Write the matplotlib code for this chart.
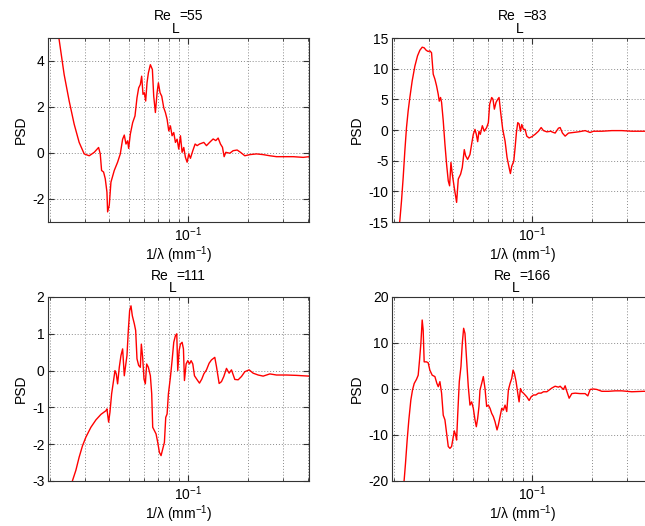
import numpy as np
import matplotlib
matplotlib.use('Agg')
import matplotlib.pyplot as plt
from matplotlib.ticker import LogLocator, NullFormatter

plt.rcParams['font.family'] = ['Liberation Sans', 'DejaVu Sans']
plt.rcParams['mathtext.fontset'] = 'custom'
plt.rcParams['mathtext.rm'] = 'Liberation Sans'
plt.rcParams['font.size'] = 10
plt.rcParams['axes.unicode_minus'] = False

# Re_L = 55
x_re55 = [0.0196, 0.0205, 0.02231, 0.02364, 0.02506, 0.02656, 0.02814, 0.02983, 0.03162, 0.03352,
          0.03525, 0.03594, 0.03650, 0.03736, 0.03809, 0.03884, 0.03914, 0.03990, 0.04068, 0.04228,
          0.04395, 0.04534, 0.04659, 0.04750, 0.04843, 0.04938, 0.04996, 0.05094, 0.05234, 0.05377,
          0.05504, 0.05612, 0.05722, 0.05811, 0.05902, 0.05995, 0.06088, 0.06183, 0.06281, 0.06428,
          0.06580, 0.06683, 0.06814, 0.06949, 0.07055, 0.07194, 0.07334, 0.07507, 0.07654, 0.07804,
          0.07958, 0.08111, 0.08270, 0.08432, 0.08597, 0.08766, 0.08935, 0.09112, 0.09290, 0.09471,
          0.09656, 0.09846, 0.10039, 0.10235, 0.10517, 0.10806, 0.11061, 0.11365, 0.11952, 0.12326,
          0.12811, 0.13317, 0.13735, 0.14114, 0.14500, 0.14840, 0.15130, 0.15425, 0.16155, 0.16793,
          0.17592, 0.18287, 0.19231, 0.20384, 0.22029, 0.23789, 0.25711, 0.27779, 0.30013, 0.33712,
          0.37862, 0.405]
psd_re55 = [7.8, 6.5, 4.92, 3.41, 2.26, 1.25, 0.46, -0.04, -0.12, 0.03,
            0.24, -0.04, -0.76, -0.83, -1.12, -1.70, -2.56, -2.27, -1.27, -0.76,
            -0.40, -0.04, 0.60, 0.78, 0.39, 0.53, 0.20, 0.82, 1.32, 1.61,
            2.40, 2.83, 2.98, 3.34, 2.55, 2.62, 2.26, 3.05, 3.48, 3.84,
            3.63, 2.47, 1.76, 2.62, 3.05, 2.62, 2.47, 1.97, 1.76, 1.47,
            0.96, 1.18, 0.75, 0.89, 0.46, 0.60, 0.17, 0.75, 0.03, 0.24,
            -0.19, -0.40, -0.04, -0.23, 0.10, 0.39, 0.32, 0.39, 0.46, 0.32,
            0.47, 0.61, 0.54, 0.65, 0.39, 0.25, -0.16, 0.03, -0.01, 0.10,
            0.13, 0.03, -0.12, -0.07, -0.04, -0.07, -0.12, -0.16, -0.16, -0.16,
            -0.19, -0.16]

# Re_L = 83
x_re83 = [0.0205, 0.02146, 0.02188, 0.02231, 0.02275, 0.02319, 0.02364, 0.02411, 0.02477, 0.02555,
          0.02636, 0.02708, 0.02782, 0.02847, 0.02914, 0.02983, 0.03041, 0.03101, 0.03162, 0.03224,
          0.03287, 0.03352, 0.03391, 0.03443, 0.03484, 0.03552, 0.03622, 0.03693, 0.03765, 0.03824,
          0.03884, 0.03945, 0.04037, 0.04148, 0.04228, 0.04345, 0.04430, 0.04534, 0.04605, 0.04713,
          0.04843, 0.04938, 0.05035, 0.05134, 0.05214, 0.05296, 0.05377, 0.05462, 0.05590, 0.05722,
          0.05878, 0.05995, 0.06088, 0.06232, 0.06329, 0.06428, 0.06554, 0.06683, 0.06787, 0.06920,
          0.07083, 0.07277, 0.07449, 0.07624, 0.07743, 0.07864, 0.08050, 0.08176, 0.08303, 0.08432,
          0.08564, 0.08697, 0.08833, 0.09006, 0.09182, 0.09363, 0.09620, 0.09922, 0.10315, 0.10722,
          0.11061, 0.11365, 0.11814, 0.12425, 0.12516, 0.13010, 0.13523, 0.13787, 0.14165, 0.14613,
          0.15190, 0.16099, 0.17056, 0.18428, 0.19530, 0.20300, 0.22372, 0.25119, 0.28213, 0.31681,
          0.35581, 0.405]
psd_re83 = [-20.0, -14.8, -11.6, -7.8, -3.4, 0.4, 3.1, 5.3, 8.0, 10.4,
            12.1, 13.0, 13.5, 13.4, 13.0, 12.8, 12.9, 12.6, 9.1, 8.3,
            7.2, 5.8, 4.7, 5.3, 4.5, 1.5, -2.3, -5.6, -8.3, -9.1,
            -5.3, -7.2, -9.4, -11.8, -8.0, -7.2, -6.1, -3.2, -4.2, -4.8,
            -4.0, -2.3, -0.7, 0.1, -0.7, -1.9, -0.2, -0.7, 0.7, -0.2,
            0.4, 1.2, 4.2, 5.3, 5.0, 3.4, 4.5, 5.0, 5.3, 2.8,
            0.1, -1.8, -4.5, -6.1, -7.1, -5.9, -5.1, -2.9, -0.4, 1.2,
            1.0, -0.2, 0.9, 0.1, 0.1, -1.0, -1.3, -1.1, -0.7, -0.2,
            0.4, -0.1, -0.3, -0.2, -0.3, -0.5, 0.3, 0.4, -0.5, -1.0,
            -0.5, -0.4, -0.3, -0.1, -0.4, -0.2, -0.2, -0.1, -0.1, -0.2,
            -0.2, -0.2]

# Re_L = 111
x_re111 = [0.0250, 0.02604, 0.02708, 0.02814, 0.02926, 0.03041, 0.03224, 0.03417, 0.03622, 0.03839,
           0.03884, 0.03960, 0.04022, 0.04101, 0.04181, 0.04263, 0.04329, 0.04395, 0.04482, 0.04570,
           0.04659, 0.04750, 0.04825, 0.04900, 0.04977, 0.05054, 0.05134, 0.05214, 0.05337, 0.05420,
           0.05504, 0.05612, 0.05722, 0.05789, 0.05878, 0.05970, 0.06064, 0.06159, 0.06281, 0.06428,
           0.06529, 0.06605, 0.06735, 0.06866, 0.07001, 0.07138, 0.07277, 0.07420, 0.07565, 0.07684,
           0.07804, 0.07926, 0.08111, 0.08270, 0.08432, 0.08597, 0.08732, 0.08833, 0.08973, 0.09112,
           0.09290, 0.09435, 0.09546, 0.09732, 0.09922, 0.10118, 0.10315, 0.10517, 0.10722, 0.11061,
           0.11365, 0.11676, 0.11952, 0.12326, 0.12710, 0.13061, 0.13575, 0.13841, 0.14277, 0.14668,
           0.15072, 0.15545, 0.16032, 0.16474, 0.17124, 0.17800, 0.18502, 0.19231, 0.20222, 0.21184,
           0.22458, 0.23789, 0.25711, 0.27779, 0.31197, 0.35040, 0.405]
psd_re111 = [-3.4, -2.99, -2.71, -2.35, -2.04, -1.81, -1.54, -1.34, -1.19, -1.09,
             -1.04, -1.40, -1.13, -0.63, -0.32, 0.0, -0.09, -0.36, 0.09, 0.41,
             0.59, -0.14, 0.14, 0.41, 1.09, 1.63, 1.76, 1.49, 1.27, 1.09,
             0.32, 0.14, 0.09, 0.72, 0.36, -0.23, -0.36, 0.18, 0.09, -0.14,
             -0.63, -1.54, -1.63, -1.72, -1.95, -2.22, -2.31, -2.13, -1.95, -1.27,
             -1.18, -0.63, -0.18, 0.27, 0.77, 0.95, 1.00, 0.0, 0.54, 0.72,
             0.77, 0.59, -0.27, 0.18, 0.27, 0.18, 0.27, 0.18, -0.14, -0.25,
             -0.34, -0.23, -0.09, 0.02, 0.20, 0.29, 0.36, 0.11, -0.35, -0.30,
             -0.16, 0.06, -0.07, 0.02, -0.24, -0.25, -0.16, -0.03, 0.02, -0.07,
             -0.12, -0.15, -0.09, -0.12, -0.12, -0.13, -0.15]

# Re_L = 166
x_re166 = [0.0215, 0.02257, 0.02292, 0.02337, 0.02383, 0.02439, 0.02487, 0.02536, 0.02604, 0.02656,
           0.02698, 0.02740, 0.02782, 0.02814, 0.02847, 0.02926, 0.02983, 0.03041, 0.03125, 0.03224,
           0.03300, 0.03352, 0.03417, 0.03484, 0.03552, 0.03622, 0.03693, 0.03765, 0.03839, 0.03914,
           0.03990, 0.04037, 0.04101, 0.04148, 0.04197, 0.04279, 0.04363, 0.04430, 0.04500, 0.04570,
           0.04659, 0.04750, 0.04843, 0.04938, 0.05035, 0.05134, 0.05214, 0.05296, 0.05377, 0.05441,
           0.05548, 0.05655, 0.05767, 0.05878, 0.05995, 0.06112, 0.06232, 0.06353, 0.06477, 0.06630,
           0.06735, 0.06866, 0.07001, 0.07138, 0.07277, 0.07420, 0.07565, 0.07713, 0.07864, 0.07985,
           0.08111, 0.08270, 0.08432, 0.08564, 0.08697, 0.08833, 0.09006, 0.09182, 0.09363, 0.09620,
           0.09846, 0.10118, 0.10395, 0.10722, 0.11061, 0.11365, 0.11814, 0.12425, 0.12516, 0.13010,
           0.13523, 0.13787, 0.14329, 0.14613, 0.14899, 0.15308, 0.15789, 0.16411, 0.17388, 0.18428,
           0.19011, 0.19530, 0.20300, 0.21101, 0.22372, 0.24161, 0.26115, 0.28213, 0.31681, 0.36278,
           0.405]
psd_re166 = [-27.0, -19.8, -16.2, -11.1, -6.7, -2.4, -0.2, 1.2, 2.1, 3.0,
             6.3, 9.9, 15.0, 12.8, 5.9, 5.9, 5.7, 4.1, 3.0, 2.7,
             1.2, 0.5, 1.6, -0.9, -5.7, -6.7, -9.6, -12.5, -12.9, -12.5,
             -10.4, -9.1, -10.0, -11.1, -6.0, 1.6, 4.9, 9.9, 13.2, 12.1,
             6.3, 0.5, -3.5, -2.8, -4.2, -6.7, -8.2, -6.4, -3.8, -0.2,
             1.2, 2.7, 0.1, -3.8, -3.5, -4.2, -5.3, -6.0, -7.1, -8.9,
             -7.8, -6.0, -4.2, -4.6, -3.5, -4.9, -0.2, 1.2, 2.3, 4.1,
             3.4, 1.6, -0.9, -2.8, 0.1, -0.6, -0.9, -1.3, -1.7, -2.5,
             -1.7, -1.3, -1.3, -0.9, -0.9, -0.6, -0.6, 0.1, 0.2, 0.6,
             0.4, 0.6, -0.1, 0.7, -0.5, -2.0, -1.0, -0.9, -1.0, -1.0,
             -1.5, -0.1, 0.0, -0.1, -0.5, -0.5, -0.4, -0.4, -0.6, -0.5,
             -0.5]

re_numbers = ['55', '83', '111', '166']
ylims = [(-3, 5), (-15, 15), (-3, 2), (-20, 20)]
yticks = [[-2, 0, 2, 4], [-15, -10, -5, 0, 5, 10, 15], [-3, -2, -1, 0, 1, 2], [-20, -10, 0, 10, 20]]
xs = [x_re55, x_re83, x_re111, x_re166]
ys = [psd_re55, psd_re83, psd_re111, psd_re166]

fig = plt.figure(figsize=(6.45, 5.26), dpi=100)
W, H = 645.0, 526.0
boxes = [(48, 38), (392, 38), (48, 297), (392, 297)]  # left, top in pixels
grid_kw = dict(ls=(0, (1, 2)), color='#8a8a8a', lw=0.7)

titles = []
for i in range(4):
    l, t = boxes[i]
    ax = fig.add_axes([l / W, 1 - (t + 184) / H, 261 / W, 184 / H])
    ax.plot(xs[i], ys[i], color='red', lw=1.0)
    ax.set_xscale('log')
    ax.set_xlim(0.0196, 0.405)
    ax.set_ylim(*ylims[i])
    ax.set_yticks(yticks[i])
    ax.set_xticks([0.1], ['10$^{\\mathregular{-1}}$'])
    ax.xaxis.set_minor_locator(LogLocator(base=10, subs=np.arange(2, 10)))
    ax.xaxis.set_minor_formatter(NullFormatter())
    ax.grid(True, which='major', **grid_kw)
    ax.grid(True, which='minor', axis='x', **grid_kw)
    ax.tick_params(which='both', direction='in', top=True, right=True, color='#333333',
                   labelsize=10, pad=2.5)
    ax.tick_params(which='major', length=4)
    ax.tick_params(which='minor', length=2)
    for s in ax.spines.values():
        s.set_color('#333333')
        s.set_linewidth(0.8)
    # title "Re_L=.." : three pieces, subscript kept full size and lowered
    parts = []
    for txt in ['Re', 'L', '=' + re_numbers[i]]:
        parts.append(ax.annotate(txt, xy=(0.5, 1), xycoords='axes fraction', xytext=(0, 0),
                                 textcoords='offset pixels', ha='left', va='baseline'))
    titles.append(parts)
    ax.set_xlabel('1/\u03bb (mm$^{\\mathregular{-1}}$)', labelpad=0)
    ax.set_ylabel('PSD', labelpad=3)

# lay the title pieces side by side, centred over each axes
r = fig.canvas.get_renderer()
for parts in titles:
    widths = [p.get_window_extent(r).width for p in parts]
    x0 = -sum(widths) / 2.0
    lifts = [17.5, 5.0, 17.5]
    for p, w, lift in zip(parts, widths, lifts):
        p.set_position((x0, lift))
        x0 += w

plt.savefig('out.png', dpi=100)
